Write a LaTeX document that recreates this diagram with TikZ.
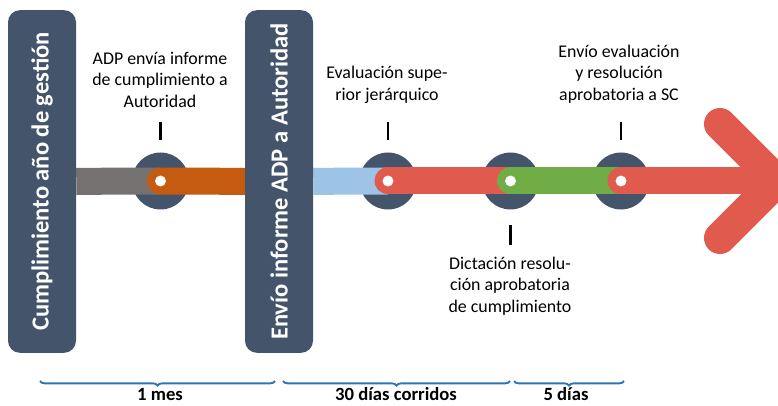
\documentclass[tikz,border=0pt]{standalone}
\usepackage{fontspec}
\setmainfont{Carlito}
\usepackage{tikz}
\usetikzlibrary{backgrounds,decorations.pathreplacing}
\definecolor{slate}{HTML}{44546A}
\definecolor{ashgray}{HTML}{767171}
\definecolor{rust}{HTML}{C55A11}
\definecolor{skyblue}{HTML}{9DC3E6}
\definecolor{coral}{HTML}{E05A4E}
\definecolor{leaf}{HTML}{70AD47}
\definecolor{bracecol}{HTML}{2E75B6}

\begin{document}
\begin{tikzpicture}[x=0.75pt, y=-0.75pt]
	  \tikzstyle{phase} = [fill=slate, rounded corners=9pt, rotate=90, minimum width=257pt, minimum height=51pt, text=white, font=\fontsize{18.4pt}{22pt}\selectfont\bfseries]
	  \tikzstyle{stop} = [circle, fill=slate, minimum size=42.75pt, inner sep=0pt]
	  \tikzstyle{note} = [align=center, font=\fontsize{13.4pt}{16.1pt}\selectfont]
	  \tikzstyle{span} = [font=\fontsize{14pt}{16pt}\selectfont\bfseries, inner sep=1pt]
	  \tikzstyle{track} = [line width=20.25pt]
	  \tikzstyle{tick} = [line width=1.6pt]
	  \tikzstyle{brace} = [draw=bracecol, line width=1.4pt, decorate, decoration={brace, mirror, amplitude=3.5pt}]
	  \useasboundingbox (0,0) rectangle (778,406);
	  % phases
	  \node[phase] (b1) at (42,181.5) {Cumplimiento año de gestión};
	  \node[phase] (b2) at (279,181.5) {Envío informe ADP a Autoridad};
	  % stops and track
	  \begin{scope}[on background layer]
	  \node[stop] (st1) at (160.5,181) {};
	  \node[stop] (st2) at (388,181) {};
	  \node[stop] (st3) at (510.5,181) {};
	  \node[stop] (st4) at (621,181) {};
	  \coordinate (tip) at (777,181);
	  \coordinate (armtop) at (720,124);
	  \coordinate (armbot) at (720,238);
	  \draw[track, ashgray] (b1) -- (st1.center);
	  \draw[track, rust, line cap=round] (st1.center) -- (b2);
	  \draw[track, skyblue] (b2) -- (st2.center);
	  \draw[track, coral, line cap=round] (st2.center) -- (st3.center);
	  \draw[track, leaf, line cap=round] (st3.center) -- (st4.center);
	  \draw[track, coral, line cap=round] (st4.center) -- (tip);
	  \draw[coral, line width=24pt, line cap=round] (armtop) -- (tip) -- (armbot);
	  \end{scope}
	  \foreach \s in {st1,st2,st3,st4}
	    \fill[white] (\s) circle (4.1pt);
	  % ticks
	  \foreach \s in {st1,st2,st4}
	    \draw[tick] (\s.north) ++(0,-12) -- ++(0,-18);
	  \draw[tick] (st3.south) ++(0,15.5) -- ++(0,20);
	  % notes
	  \node[note] (n1) at (160,79.5) {ADP envía informe\\de cumplimiento a\\Autoridad};
	  \node[note] (n2) at (387,85) {Evaluación supe-\\rior jerárquico};
	  \node[note] (n3) at (619,74) {Envío evaluación\\y resolución\\aprobatoria a SC};
	  \node[note] (n4) at (510,286) {Dictación resolu-\\ción aprobatoria\\de cumplimiento};
	  % spans
	  \draw[brace] (40,381) -- (275,381);
	  \draw[brace] (283,381) -- (510,381);
	  \draw[brace] (514,381) -- (624,381);
	  \node[span] (m1) at (160,394.5) {1 mes};
	  \node[span] (m2) at (396,394.5) {30 días corridos};
	  \node[span] (m3) at (566,394.5) {5 días};
	\end{tikzpicture}
\end{document}
